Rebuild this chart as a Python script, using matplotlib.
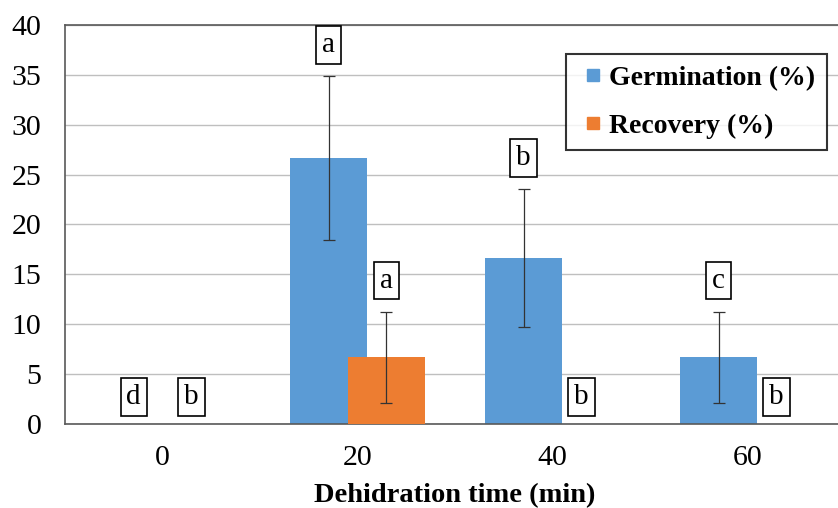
import numpy as np
import matplotlib.pyplot as plt
from matplotlib.lines import Line2D

plt.rcParams['font.family'] = 'Liberation Serif'

times = ['0', '20', '40', '60']
germination = [0, 26.67, 16.67, 6.67]
germ_err = [0, 8.2, 6.9, 4.6]
recovery = [0, 6.67, 0, 0]
rec_err = [0, 4.6, 0, 0]
germ_letters = ['d', 'a', 'b', 'c']
rec_letters = ['b', 'a', 'b', 'b']

blue = '#5B9BD5'
orange = '#ED7D31'

fig = plt.figure(figsize=(8.38, 5.08), dpi=100)
ax = fig.add_axes([65/838, 84/508, 780/838, 399/508])

x = np.arange(len(times))
off = 0.148
w = 0.395

ax.bar(x - off, germination, w, color=blue, zorder=2)
ax.bar(x + off, recovery, w, color=orange, zorder=3)

g = np.array(germination); ge = np.array(germ_err)
r = np.array(recovery); re = np.array(rec_err)
mg = ge > 0
ax.errorbar(x[mg] - off, g[mg], yerr=ge[mg], fmt='none', ecolor='#333333',
            elinewidth=0.9, capsize=4.5, capthick=0.9, zorder=4)
mr = re > 0
ax.errorbar(x[mr] + off, r[mr], yerr=re[mr], fmt='none', ecolor='#333333',
            elinewidth=0.9, capsize=4.5, capthick=0.9, zorder=4)

# significance letters
box = dict(boxstyle='square,pad=0.2', fc='white', ec='black', lw=1.2)
for xi, v, e, t in zip(x - off, g, ge, germ_letters):
    y = v + e + 3.1 if v > 0 else 2.7
    ax.text(xi, y, t, ha='center', va='center', fontsize=21, bbox=box, zorder=5, clip_on=False)
for xi, v, e, t in zip(x + off, r, re, rec_letters):
    y = v + e + 3.1 if v > 0 else 2.7
    ax.text(xi, y, t, ha='center', va='center', fontsize=21, bbox=box, zorder=5, clip_on=False)

ax.set_xlim(-0.5, 3.5)
ax.set_ylim(0, 40)
ax.set_yticks(np.arange(0, 41, 5))
ax.set_xticks(x)
ax.set_xticklabels(times)
ax.tick_params(length=0, labelsize=21.5)
ax.tick_params(axis='y', pad=17)
ax.tick_params(axis='x', pad=15)
ax.yaxis.grid(True, color='#BFBFBF', lw=1, zorder=0)
ax.set_axisbelow(True)
for s in ['left', 'bottom', 'top']:
    ax.spines[s].set_color('#595959')
    ax.spines[s].set_linewidth(1.2)
ax.spines['right'].set_visible(False)

ax.set_xlabel('Dehidration time (min)', fontsize=20.5, fontweight='bold', labelpad=9)

handles = [Line2D([], [], ls='none', marker='s', ms=8.5, color=blue),
           Line2D([], [], ls='none', marker='s', ms=8.5, color=orange)]
leg = ax.legend(handles, ['Germination (%)', 'Recovery (%)'],
                loc='upper right', bbox_to_anchor=(827/838, 1 - 54/508),
                bbox_transform=fig.transFigure, frameon=True, fancybox=False,
                prop={'weight': 'bold', 'size': 20}, handlelength=1.08,
                handletextpad=0.05, borderpad=0.42, labelspacing=0.8, borderaxespad=0)
leg.get_frame().set_edgecolor('black')
leg.get_frame().set_linewidth(1.5)
leg.set_zorder(6)

fig.savefig('out.png', dpi=100)
